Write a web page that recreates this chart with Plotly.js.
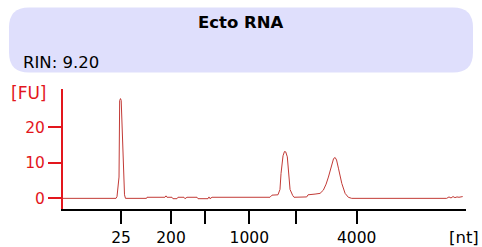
<!DOCTYPE html>
<html>
<head>
<meta charset="utf-8">
<script src="https://cdn.plot.ly/plotly-3.0.1.min.js"></script>
<style>html,body{margin:0;padding:0;background:#fff;}#chart{width:482px;height:247px;}</style>
</head>
<body>
<div id="chart"></div>
<script>
// Electropherogram data (migration time in s, fluorescence in FU)
const timeSec = [20.00, 26.58, 26.70, 26.82, 26.95, 27.03, 27.13, 27.22, 27.32, 27.40, 27.50, 27.63, 27.75,
  30.36, 30.42, 32.65, 32.78, 32.90, 33.52, 33.64, 34.14, 34.26, 35.01, 35.13, 35.26, 35.38, 36.63, 36.75,
  37.99, 38.11, 38.24, 38.49, 45.68, 45.93, 46.67, 46.92, 47.05, 47.30, 47.48, 47.63, 47.83, 47.96, 48.17,
  48.50, 48.66, 50.24, 50.40, 51.27, 51.89, 52.30, 52.64, 52.93, 53.35, 53.57, 53.76, 53.94, 54.17, 54.59,
  55.00, 55.40, 55.82, 67.60, 67.89, 68.14, 68.39, 68.63, 68.88, 69.13, 69.59];
const fluorescence = [0, 0, 0.5, 3.3, 6, 27.5, 28.1, 27.6, 20, 11.7, 6, 1, 0,
  0, 0.3, 0.3, 0.7, 0.3, 0.3, -0.1, -0.1, 0.3, 0.3, -0.1, 0.1, 0.3, 0.3, -0.1,
  -0.1, 0.4, -0.1, 0.3, 0.3, 0.9, 1.0, 2.5, 7, 12, 13.2, 13.1, 11.7, 7.2, 2.5,
  0.8, 0.3, 0.4, 1.0, 1.2, 1.4, 2.3, 4.0, 6, 9.9, 11.2, 11.5, 10.8, 8.5, 4.2,
  1.4, 0.3, 0, 0, 0.4, 0.1, 0.5, 0.2, 0.4, 0.3, 0.5];

// Ladder ticks
const ladderTime = [27.20, 33.40, 37.56, 43.11, 48.87, 56.44];
const ladderLabels = ['25', '200', '', '1000', '', '4000'];
const yTicks = [0, 10, 20];

const sampleName = 'Ecto RNA';
const rinText = 'RIN: 9.20';

// layout helpers (pixel -> paper)
const L = 63, R = 466, T = 89, B = 209;
const px = v => (v - L) / (R - L);
const py = v => (B - v) / (B - T);

function roundRect(x0, y0, x1, y1, r) {
  const p = [];
  p.push('M', px(x0 + r), py(y0));
  p.push('L', px(x1 - r), py(y0));
  p.push('Q', px(x1), py(y0), px(x1), py(y0 + r));
  p.push('L', px(x1), py(y1 - r));
  p.push('Q', px(x1), py(y1), px(x1 - r), py(y1));
  p.push('L', px(x0 + r), py(y1));
  p.push('Q', px(x0), py(y1), px(x0), py(y1 - r));
  p.push('L', px(x0), py(y0 + r));
  p.push('Q', px(x0), py(y0), px(x0 + r), py(y0));
  p.push('Z');
  return p.join(' ').replace(/ ([-\d.]+) ([-\d.]+)/g, ' $1,$2');
}

const font = 'DejaVu Sans, Verdana, sans-serif';
const red = '#e3161d';

const trace = {
  x: timeSec, y: fluorescence, type: 'scatter', mode: 'lines',
  line: {color: '#c23a36', width: 1}, hoverinfo: 'skip'
};

const layout = {
  width: 482, height: 247,
  margin: {l: L, r: 482 - R, t: T, b: 247 - B, pad: 0},
  paper_bgcolor: '#fff', plot_bgcolor: '#fff',
  showlegend: false,
  font: {family: font, size: 15, color: '#000'},
  xaxis: {
    range: [20, 70], showgrid: false, zeroline: false,
    showline: true, linecolor: '#000', linewidth: 2,
    ticks: 'outside', ticklen: 13, tickwidth: 2, tickcolor: '#000',
    tickmode: 'array', tickvals: ladderTime, ticktext: ladderLabels,
    tickfont: {family: font, size: 15.5, color: '#000'}
  },
  yaxis: {
    range: [-3.0, 30.8], showgrid: false, zeroline: false,
    showline: true, linecolor: red, linewidth: 2,
    ticks: 'outside', ticklen: 13, tickwidth: 2, tickcolor: red,
    tickmode: 'array', tickvals: yTicks, ticktext: yTicks.map(String),
    tickfont: {family: font, size: 15.5, color: red}
  },
  shapes: [{
    type: 'path', xref: 'paper', yref: 'paper', layer: 'below',
    path: roundRect(9, 7.5, 473, 72.5, 20),
    fillcolor: '#dfdffc', line: {width: 0}
  }],
  annotations: [
    {text: '<b>' + sampleName + '</b>', xref: 'paper', yref: 'paper', x: px(240.5), y: py(22.5),
      xanchor: 'center', yanchor: 'middle', showarrow: false, font: {family: font, size: 16.5, color: '#000'}},
    {text: rinText, xref: 'paper', yref: 'paper', x: px(20.5), y: py(62.5),
      xanchor: 'left', yanchor: 'middle', showarrow: false, font: {family: font, size: 16.5, color: '#000'}},
    {text: '[FU]', xref: 'paper', yref: 'paper', x: px(28.5), y: py(93),
      xanchor: 'center', yanchor: 'middle', showarrow: false, font: {family: font, size: 17, color: red}},
    {text: '[nt]', xref: 'paper', yref: 'paper', x: px(464), y: py(237),
      xanchor: 'center', yanchor: 'middle', showarrow: false, font: {family: font, size: 16.5, color: '#000'}}
  ]
};

Plotly.newPlot('chart', [trace], layout, {staticPlot: true, displayModeBar: false});
</script>
</body>
</html>
